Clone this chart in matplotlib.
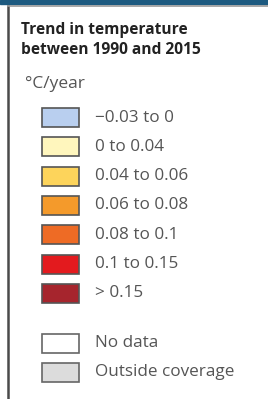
import matplotlib
matplotlib.use("Agg")
import matplotlib.pyplot as plt

title_lines = ["Trend in temperature", "between 1990 and 2015"]
unit = "°C/year"
labels = ["\u22120.03 to 0", "0 to 0.04", "0.04 to 0.06", "0.06 to 0.08",
          "0.08 to 0.1", "0.1 to 0.15", "> 0.15"]
colors = ["#b9cfef", "#fff6bd", "#fdd45b", "#f49a2b", "#ee6b25", "#e31a1e", "#a6252d"]
extra_labels = ["No data", "Outside coverage"]
extra_colors = ["#ffffff", "#dcdcdc"]

plt.rcParams['font.family'] = ['Open Sans', 'DejaVu Sans']

fig = plt.figure(figsize=(2.68, 3.99), dpi=100)
ax = fig.add_axes([0, 0, 1, 1])
ax.set_xlim(0, 268)
ax.set_ylim(399, 0)
ax.axis("off")

# frame: blue band on top, grey lines left and top
ax.axhspan(0, 3.5, color="#1d5a80")
ax.plot([8, 8], [6, 399], color="#4a4a4a", lw=1.8)
ax.plot([8, 268], [6, 6], color="#9a9a9a", lw=1.2)

for i, line in enumerate(title_lines):
    ax.text(21, 34 + i * 20, line, fontsize=11.2, fontweight="bold",
            color="#222222", va="baseline")
ax.text(25, 88, unit, fontsize=12.5, color="#555555", va="baseline")

ys = [117.5 + i * 29.3 for i in range(len(labels))]
ax.barh(ys, 37, left=42, height=19, color=colors, edgecolor="#555555", linewidth=1.2)
for y, lab in zip(ys, labels):
    ax.text(95, y, lab, fontsize=12.3, color="#555555", va="center")

ys2 = [343 + i * 29.5 for i in range(len(extra_labels))]
ax.barh(ys2, 37, left=42, height=19, color=extra_colors, edgecolor="#666666", linewidth=1.2)
for y, lab in zip(ys2, extra_labels):
    ax.text(95, y, lab, fontsize=12.3, color="#555555", va="center")

fig.savefig("out.png", dpi=100, facecolor="white")
